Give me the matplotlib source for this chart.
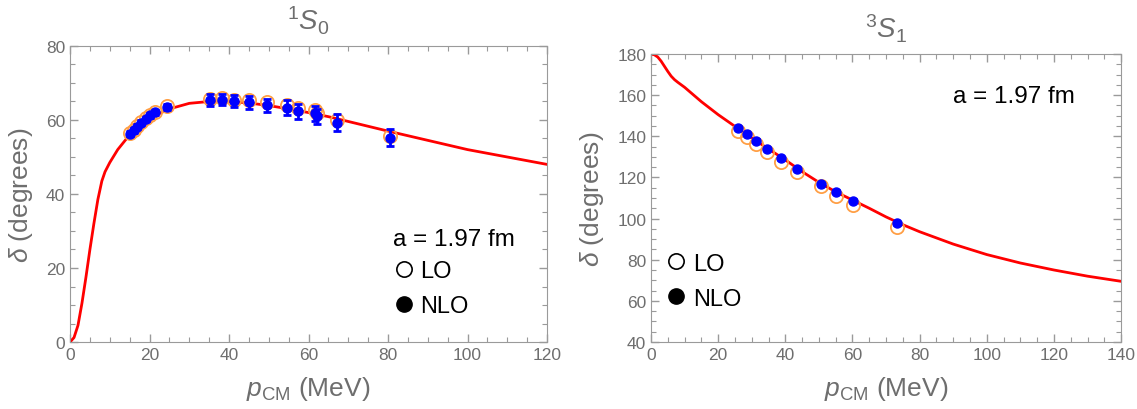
import numpy as np
import matplotlib
matplotlib.use("Agg")
import matplotlib.pyplot as plt
from matplotlib.lines import Line2D
from matplotlib.ticker import MultipleLocator

##############################################################################
# data

# 1S0 channel
s0_curve_p = [0, 1, 2, 3, 4, 5, 6, 7, 8, 8.8, 10, 12, 15, 20, 25, 30, 35, 40,
              45, 50, 55, 60, 65, 70, 80, 90, 100, 110, 120]
s0_curve_d = [0, 1.2, 4.5, 10.5, 17.5, 25, 32, 38.5, 43.5, 46, 48.5, 52, 56,
              60.5, 63, 64.5, 65, 65, 64.6, 63.9, 63, 62, 60.9, 59.6, 57,
              54.5, 52, 50, 48]
s0_p = [15.1, 16.0, 16.9, 17.9, 19.0, 20.1, 21.4, 24.4, 35.2, 38.2, 41.3,
        44.9, 49.5, 54.5, 57.4, 61.6, 62.2, 67.2, 80.5]
s0_lo = [56.5, 57.4, 58.4, 59.5, 60.5, 61.4, 62.2, 63.8, 65.7, 65.9, 65.5,
         65.5, 64.8, 64.1, 63.2, 62.6, 62.0, 60.1, 55.8]
s0_nlo = [56.3, 57.2, 58.2, 59.3, 60.3, 61.3, 62.1, 63.6, 65.4, 65.5, 65.1,
          64.8, 64.0, 63.3, 62.4, 61.8, 61.0, 59.3, 55.2]
s0_err = [0.6, 0.6, 0.6, 0.6, 0.6, 0.7, 0.7, 0.8, 1.5, 1.5, 1.6, 1.7, 1.8,
          2.0, 2.0, 2.1, 2.1, 2.2, 2.3]

# 3S1 channel
s1_curve_p = [0, 1, 2, 3, 4, 5, 6, 7, 8, 10, 15, 20, 25, 30, 35, 40, 45, 50,
              55, 60, 65, 70, 75, 80, 90, 100, 110, 120, 130, 140]
s1_curve_d = [180, 179.6, 178.5, 176.5, 174, 171.5, 169.2, 167.5, 166.2,
              163.8, 156.8, 150.5, 144.8, 139.2, 133.8, 128.5, 122.8, 117.6,
              113, 109, 105, 100.8, 97, 93.6, 87.6, 82.5, 78.4, 75, 72, 69.5]
s1_p = [26.0, 28.5, 31.3, 34.5, 38.7, 43.4, 50.6, 55.1, 60.3, 73.4]
s1_lo = [142.7, 139.8, 136.2, 132.5, 127.3, 122.5, 115.7, 111.1, 106.6, 95.7]
s1_nlo = [144.0, 141.1, 137.9, 133.8, 129.3, 124.1, 116.8, 113.1, 108.7, 97.8]
s1_err = [0.7] * 10

##############################################################################
# matplotlib configuration

gray = '#6e6e6e'
params = {'font.family': ['Liberation Sans', 'DejaVu Sans'],
          'mathtext.fontset': 'custom',
          'mathtext.rm': 'Liberation Sans',
          'mathtext.it': 'Liberation Sans:italic',
          'xtick.labelsize': 12.5,
          'ytick.labelsize': 12.5,
          'xtick.color': gray,
          'ytick.color': gray,
          'axes.edgecolor': '#9a9a9a',
          }
matplotlib.rcParams.update(params)

red = '#ff0000'
orange = '#ff9f45'
blue = '#0000ff'


def style_axes(ax, xmax, ymin, ymax, title, pad):
    ax.set_xlim(0, xmax)
    ax.set_ylim(ymin, ymax)
    ax.xaxis.set_major_locator(MultipleLocator(20))
    ax.xaxis.set_minor_locator(MultipleLocator(5))
    ax.yaxis.set_major_locator(MultipleLocator(20))
    ax.yaxis.set_minor_locator(MultipleLocator(5))
    ax.tick_params(which='both', direction='in', top=True, right=True,
                   color='#9a9a9a')
    ax.tick_params(which='major', length=6, width=1)
    ax.tick_params(which='minor', length=3.5, width=0.8)
    ax.set_xlabel(r'$p_{\mathrm{CM}}$ (MeV)', fontsize=19, color=gray,
                  labelpad=9)
    ax.set_ylabel(r'$\delta$ (degrees)', fontsize=19, color=gray, labelpad=8)
    ax.set_title(title, fontsize=20, color=gray, pad=pad)


def draw_points(ax, p, lo, nlo, err):
    ax.plot(p, lo, 'o', ms=9.5, mfc='none', mec=orange, mew=1.3, zorder=3)
    ax.errorbar(p, nlo, yerr=err, fmt='o', ms=6.5, color=blue, ecolor=blue,
                elinewidth=2, capsize=3, capthick=2, zorder=4)


def draw_legend(ax, anchor):
    handles = [Line2D([], [], ls='none', marker='o', ms=11, mfc='none',
                      mec='black', mew=1.2),
               Line2D([], [], ls='none', marker='o', ms=11, mfc='black',
                      mec='black')]
    ax.legend(handles, ['LO', 'NLO'], loc='upper left', bbox_to_anchor=anchor,
              frameon=False, fontsize=17, handlelength=0.7,
              handletextpad=0.35, labelspacing=0.55, borderpad=0,
              borderaxespad=0)


fig = plt.figure(figsize=(11.37, 4.10), dpi=100)
ax1 = fig.add_axes([0.0616, 0.1634, 0.4195, 0.722])
ax2 = fig.add_axes([0.5726, 0.1634, 0.4134, 0.7025])

# left panel
ax1.plot(s0_curve_p, s0_curve_d, color=red, lw=2, zorder=2)
draw_points(ax1, s0_p, s0_lo, s0_nlo, s0_err)
style_axes(ax1, 120, 0, 80, r'$^{1}S_{0}$', 12)
ax1.text(0.677, 0.348, 'a = 1.97 fm', transform=ax1.transAxes,
         fontsize=17.5, va='center', ha='left')
draw_legend(ax1, (0.682, 0.277))

# right panel
ax2.plot(s1_curve_p, s1_curve_d, color=red, lw=2, zorder=2)
draw_points(ax2, s1_p, s1_lo, s1_nlo, s1_err)
style_axes(ax2, 140, 40, 180, r'$^{3}S_{1}$', 12)
ax2.text(0.643, 0.855, 'a = 1.97 fm', transform=ax2.transAxes,
         fontsize=17.5, va='center', ha='left')
draw_legend(ax2, (0.036, 0.31))

fig.savefig('out.png', dpi=100)
